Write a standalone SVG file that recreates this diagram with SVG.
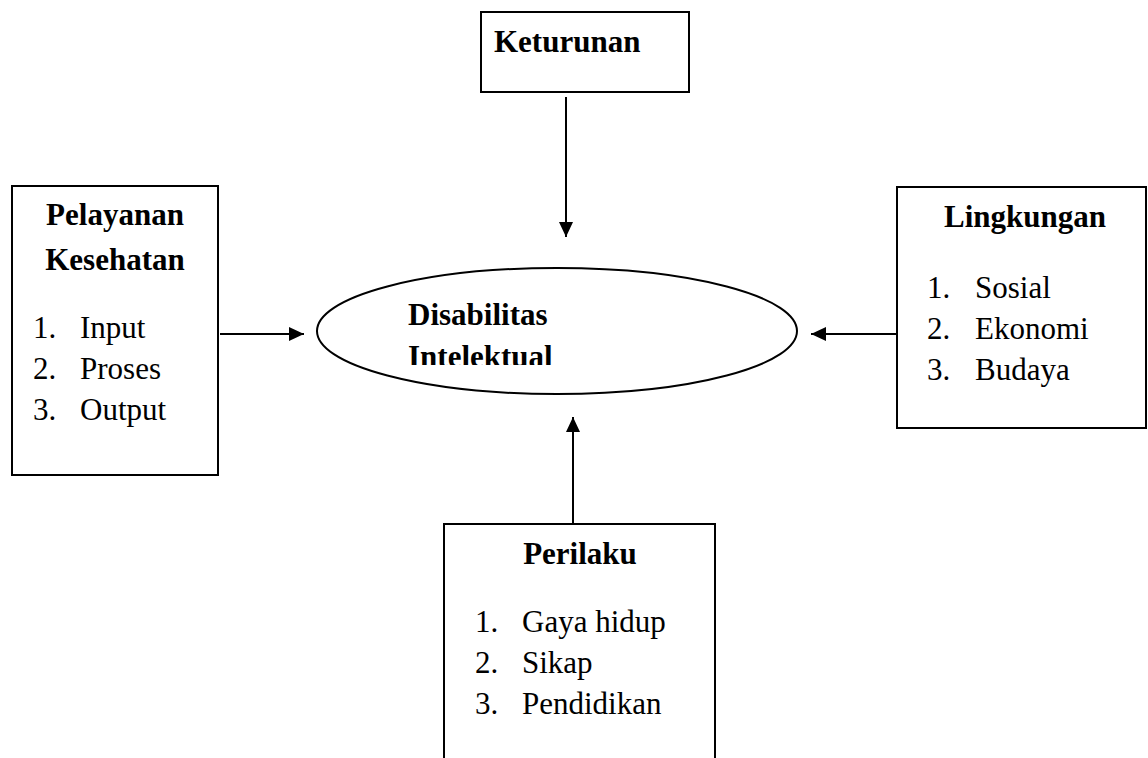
<svg xmlns="http://www.w3.org/2000/svg" width="1148" height="758" viewBox="0 0 1148 758">
<style>
.box{fill:#fff;stroke:#000;stroke-width:2}
.conn{stroke:#000;stroke-width:2;fill:none}
text{font-family:"Liberation Serif","Times New Roman",serif;font-size:31px;fill:#000}
.b{font-weight:bold}
</style>
<defs>
<marker id="ah" viewBox="0 0 15 14" refX="15" refY="7" markerWidth="15" markerHeight="14" orient="auto" markerUnits="userSpaceOnUse">
<path d="M0,0 L15,7 L0,14 z" fill="#000"/>
</marker>
<clipPath id="clipEll"><rect x="300" y="270" width="520" height="95"/></clipPath>
</defs>
<rect width="1148" height="758" fill="#fff"/>
<g id="connectors">
<line class="conn" x1="566" y1="97" x2="566" y2="237" marker-end="url(#ah)"/>
<line class="conn" x1="220" y1="334" x2="304" y2="334" marker-end="url(#ah)"/>
<line class="conn" x1="897" y1="334" x2="811" y2="334" marker-end="url(#ah)"/>
<line class="conn" x1="573" y1="524" x2="573" y2="417" marker-end="url(#ah)"/>
</g>
<g id="keturunan">
<rect class="box" x="481" y="12" width="208" height="80"/>
<text class="b" x="494" y="52">Keturunan</text>
</g>
<g id="pelayanan">
<rect class="box" x="12" y="186" width="206" height="289"/>
<text class="b" x="115" y="225" text-anchor="middle">Pelayanan</text>
<text class="b" x="115" y="270" text-anchor="middle">Kesehatan</text>
<text x="33" y="338">1.</text><text x="80" y="338">Input</text>
<text x="33" y="379">2.</text><text x="80" y="379">Proses</text>
<text x="33" y="420">3.</text><text x="80" y="420">Output</text>
</g>
<g id="disabilitas">
<ellipse class="box" cx="557" cy="331" rx="240" ry="63"/>
<text class="b" x="408" y="325">Disabilitas</text>
<text class="b" x="408" y="367" clip-path="url(#clipEll)">Intelektual</text>
</g>
<g id="lingkungan">
<rect class="box" x="897" y="187" width="249" height="241"/>
<text class="b" x="1025" y="227" text-anchor="middle">Lingkungan</text>
<text x="927" y="298">1.</text><text x="975" y="298">Sosial</text>
<text x="927" y="339">2.</text><text x="975" y="339">Ekonomi</text>
<text x="927" y="380">3.</text><text x="975" y="380">Budaya</text>
</g>
<g id="perilaku">
<path class="box" d="M444,760 L444,524 L715,524 L715,760"/>
<text class="b" x="580" y="564" text-anchor="middle">Perilaku</text>
<text x="475" y="632">1.</text><text x="522" y="632">Gaya hidup</text>
<text x="475" y="673">2.</text><text x="522" y="673">Sikap</text>
<text x="475" y="714">3.</text><text x="522" y="714">Pendidikan</text>
</g>
</svg>
